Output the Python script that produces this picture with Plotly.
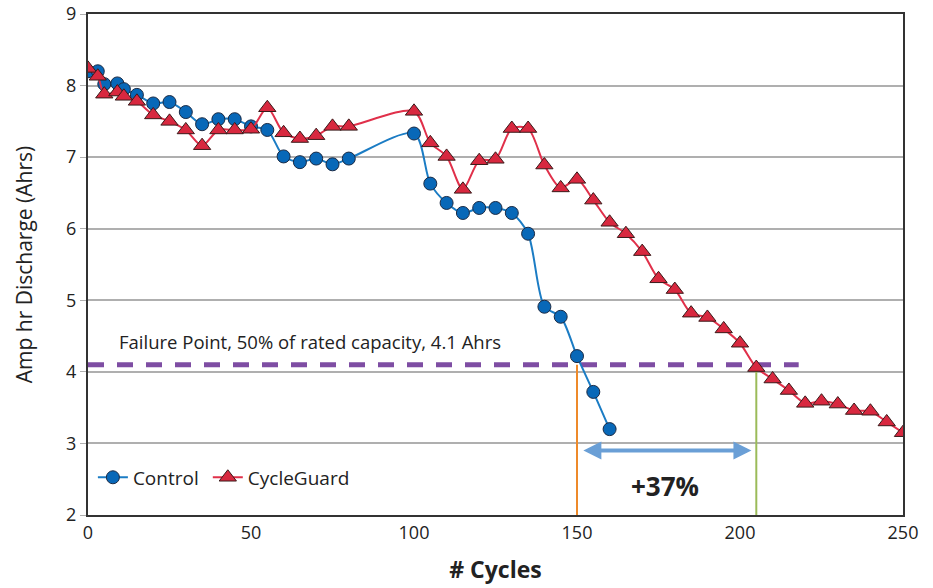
import plotly.graph_objects as go

# Data
control_x = [0, 3, 5, 9, 11, 15, 20, 25, 30, 35, 40, 45, 50, 55, 60, 65, 70, 75, 80,
             100, 105, 110, 115, 120, 125, 130, 135, 140, 145, 150, 155, 160]
control_y = [8.2, 8.2, 8.02, 8.03, 7.95, 7.87, 7.75, 7.77, 7.63, 7.46, 7.53, 7.53, 7.43, 7.38,
             7.01, 6.93, 6.98, 6.9, 6.98, 7.33, 6.63, 6.36, 6.22, 6.29, 6.29, 6.22, 5.93, 4.91,
             4.77, 4.22, 3.72, 3.2]

guard_x = [0, 3, 5, 9, 11, 15, 20, 25, 30, 35, 40, 45, 50, 55, 60, 65, 70, 75, 80,
           100, 105, 110, 115, 120, 125, 130, 135, 140, 145, 150, 155, 160, 165, 170, 175,
           180, 185, 190, 195, 200, 205, 210, 215, 220, 225, 230, 235, 240, 245, 250]
guard_y = [8.24, 8.13, 7.88, 7.91, 7.85, 7.78, 7.59, 7.5, 7.38, 7.16, 7.38, 7.38, 7.39, 7.69,
           7.34, 7.26, 7.3, 7.43, 7.43, 7.64, 7.2, 7.01, 6.55, 6.95, 6.97, 7.4, 7.4, 6.89,
           6.57, 6.69, 6.4, 6.09, 5.93, 5.68, 5.3, 5.15, 4.82, 4.76, 4.6, 4.4, 4.06, 3.9,
           3.74, 3.56, 3.59, 3.55, 3.46, 3.45, 3.3, 3.15]

failure_level = 4.1
failure_x = [0, 218]
control_fail_cycle = 150
guard_fail_cycle = 205
gain_label = "+37%"
failure_label = "Failure Point, 50% of rated capacity, 4.1 Ahrs"

FONT = "Open Sans"

fig = go.Figure()

# failure point dashed line
fig.add_trace(go.Scatter(
    x=failure_x, y=[failure_level, failure_level], mode="lines",
    line=dict(color="#7E4DA3", width=5, dash="16px,13px"),
    showlegend=False, hoverinfo="skip"))

# vertical failure markers
fig.add_trace(go.Scatter(
    x=[control_fail_cycle, control_fail_cycle], y=[failure_level, 2], mode="lines",
    line=dict(color="#EE8A2A", width=2), showlegend=False, hoverinfo="skip"))
fig.add_trace(go.Scatter(
    x=[guard_fail_cycle, guard_fail_cycle], y=[4.06, 2], mode="lines",
    line=dict(color="#9BBB59", width=2), showlegend=False, hoverinfo="skip"))

fig.add_trace(go.Scatter(
    x=control_x, y=control_y, mode="lines+markers", name="Control", legend="legend",
    line=dict(color="#1B7CC4", width=2, shape="spline", smoothing=0.8),
    marker=dict(symbol="circle", size=13, color="#0868B8",
                line=dict(color="#1A2A44", width=1))))

fig.add_trace(go.Scatter(
    x=guard_x, y=guard_y, mode="lines+markers", name="CycleGuard", legend="legend2",
    line=dict(color="#E0304A", width=2, shape="spline", smoothing=0.8),
    marker=dict(symbol="triangle-up", size=15, color="#D8283F",
                line=dict(color="#3A1A1A", width=1))))

# double arrow
fig.add_annotation(
    x=203.5, y=2.9, ax=151.5, ay=2.9, xref="x", yref="y", axref="x", ayref="y",
    text="", showarrow=True, arrowhead=2, startarrowhead=2, arrowside="end+start",
    arrowwidth=4, arrowsize=0.9, startarrowsize=0.9, arrowcolor="#6A9FD6")

fig.add_annotation(
    x=177, y=2.4, xref="x", yref="y", text="<b>" + gain_label + "</b>",
    showarrow=False, font=dict(family=FONT, size=26, color="#222222"))

fig.add_annotation(
    x=9, y=4.42, xref="x", yref="y", text=failure_label, xanchor="left",
    showarrow=False, font=dict(family=FONT, size=18.5, color="#222222"))

legend_style = dict(orientation="h", y=0.075, xanchor="left", yanchor="middle",
                    bgcolor="rgba(0,0,0,0)", font=dict(size=19, color="#222222"),
                    itemwidth=30)

fig.update_layout(
    width=933, height=588,
    margin=dict(l=88, r=30, t=14, b=73),
    paper_bgcolor="white", plot_bgcolor="white",
    font=dict(family=FONT, size=18, color="#222222"),
    legend=dict(x=0.006, **legend_style),
    legend2=dict(x=0.147, **legend_style),
    showlegend=True,
)

fig.update_xaxes(
    range=[0, 250], tickvals=[0, 50, 100, 150, 200, 250], showgrid=False,
    showline=True, linecolor="#333333", linewidth=2, mirror=True, ticks="",
    zeroline=False, automargin=False,
    title=dict(text="<b># Cycles</b>", font=dict(family=FONT, size=23, color="#222222"),
               standoff=19),
    tickfont=dict(size=18))

fig.update_yaxes(
    range=[2, 9], dtick=1, showgrid=True, gridcolor="#AFAFAF", gridwidth=2,
    showline=True, linecolor="#333333", linewidth=2, mirror=True,
    ticks="outside", ticklen=6, tickcolor="#AFAFAF", zeroline=False, automargin=False,
    title=dict(text="Amp hr Discharge (Ahrs)", font=dict(family=FONT, size=21, color="#222222"),
               standoff=28),
    tickfont=dict(size=18))

fig.write_html("out.html", config={"displayModeBar": False},
               post_script="document.body.style.margin='0';")
